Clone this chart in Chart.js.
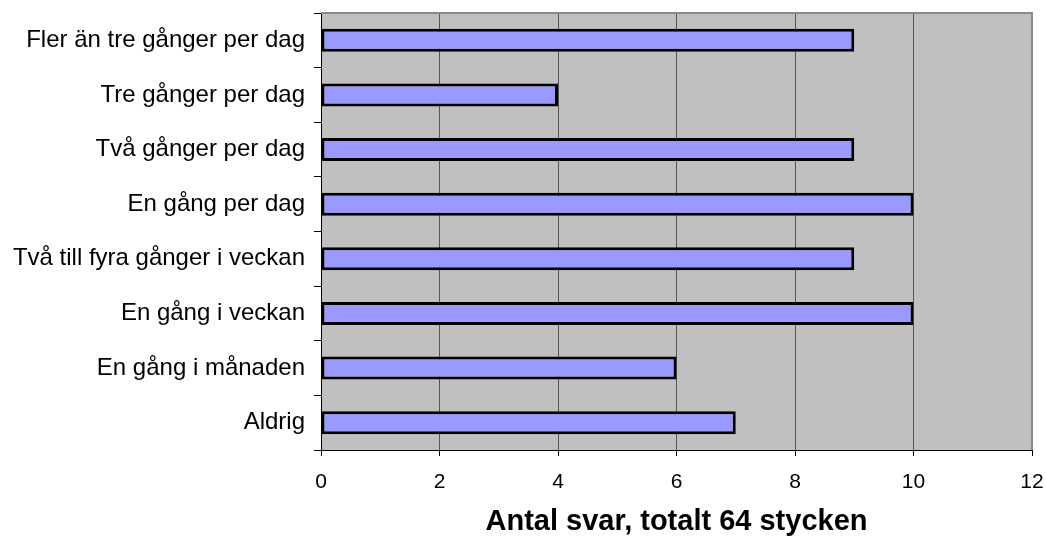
<!DOCTYPE html>
<html>
<head>
<meta charset="utf-8">
<script src="https://cdn.jsdelivr.net/npm/chart.js@4/dist/chart.umd.min.js"></script>
<style>
  html, body { margin: 0; padding: 0; background: #ffffff; }
  #wrap { width: 1046px; height: 539px; }
</style>
</head>
<body>
<div id="wrap"><canvas id="c" width="1046" height="539"></canvas></div>
<script>
// Hur ofta: answer categories, top to bottom
const categories = [
  'Fler än tre gånger per dag',
  'Tre gånger per dag',
  'Två gånger per dag',
  'En gång per dag',
  'Två till fyra gånger i veckan',
  'En gång i veckan',
  'En gång i månaden',
  'Aldrig'
];
// Number of answers per category (64 in total)
const responses = [9, 4, 9, 10, 9, 10, 6, 7];
// Value axis
const axisMin = 0;
const axisMax = 12;
const axisStep = 2;
const axisTitle = 'Antal svar, totalt 64 stycken';

const FONT = "'Liberation Sans', Arial, sans-serif";

// Grey plot background with a grey frame on the top and right sides
const plotFrame = {
  id: 'plotFrame',
  beforeDraw(chart) {
    const { ctx, chartArea: a } = chart;
    ctx.save();
    ctx.fillStyle = '#c0c0c0';
    ctx.fillRect(a.left, a.top, a.right - a.left, a.bottom - a.top);
    ctx.restore();
  },
  afterDraw(chart) {
    const { ctx, chartArea: a } = chart;
    ctx.save();
    ctx.strokeStyle = '#8a8a8a';
    ctx.lineWidth = 2;
    ctx.beginPath();
    ctx.moveTo(a.left, a.top);
    ctx.lineTo(a.right, a.top);
    ctx.lineTo(a.right, a.bottom);
    ctx.stroke();
    ctx.restore();
  }
};

new Chart(document.getElementById('c'), {
  type: 'bar',
  data: {
    labels: categories,
    datasets: [{
      data: responses,
      backgroundColor: '#9999ff',
      borderColor: '#000000',
      borderWidth: 3,
      borderSkipped: false,
      barPercentage: 0.42,
      categoryPercentage: 1
    }]
  },
  options: {
    indexAxis: 'y',
    responsive: false,
    devicePixelRatio: 1,
    animation: false,
    layout: { padding: { top: 13, right: 14, left: 0, bottom: 0 } },
    plugins: {
      legend: { display: false },
      tooltip: { enabled: false }
    },
    scales: {
      y: {
        type: 'category',
        grid: {
          offset: true,
          drawOnChartArea: false,
          drawTicks: true,
          tickLength: 7,
          color: '#000000'
        },
        border: { color: '#000000', width: 1 },
        ticks: {
          color: '#000000',
          font: { family: FONT, size: 24 },
          padding: 9
        },
        afterFit(scale) {
          scale.width = 321;
          scale.paddingTop = 0;
          scale.paddingBottom = 0;
        }
      },
      x: {
        min: axisMin,
        max: axisMax,
        grid: {
          color: '#555555',
          lineWidth: 1,
          tickLength: 6,
          tickColor: '#000000'
        },
        border: { color: '#000000', width: 1 },
        ticks: {
          stepSize: axisStep,
          color: '#000000',
          font: { family: FONT, size: 21 },
          padding: 14,
          maxRotation: 0
        },
        title: {
          display: true,
          text: axisTitle,
          color: '#000000',
          font: { family: FONT, size: 29, weight: 'bold' },
          padding: { top: 0, bottom: 0 }
        },
        afterFit(scale) {
          scale.height = 89;
          scale.paddingLeft = 0;
          scale.paddingRight = 0;
        }
      }
    }
  },
  plugins: [plotFrame]
});
</script>
</body>
</html>
